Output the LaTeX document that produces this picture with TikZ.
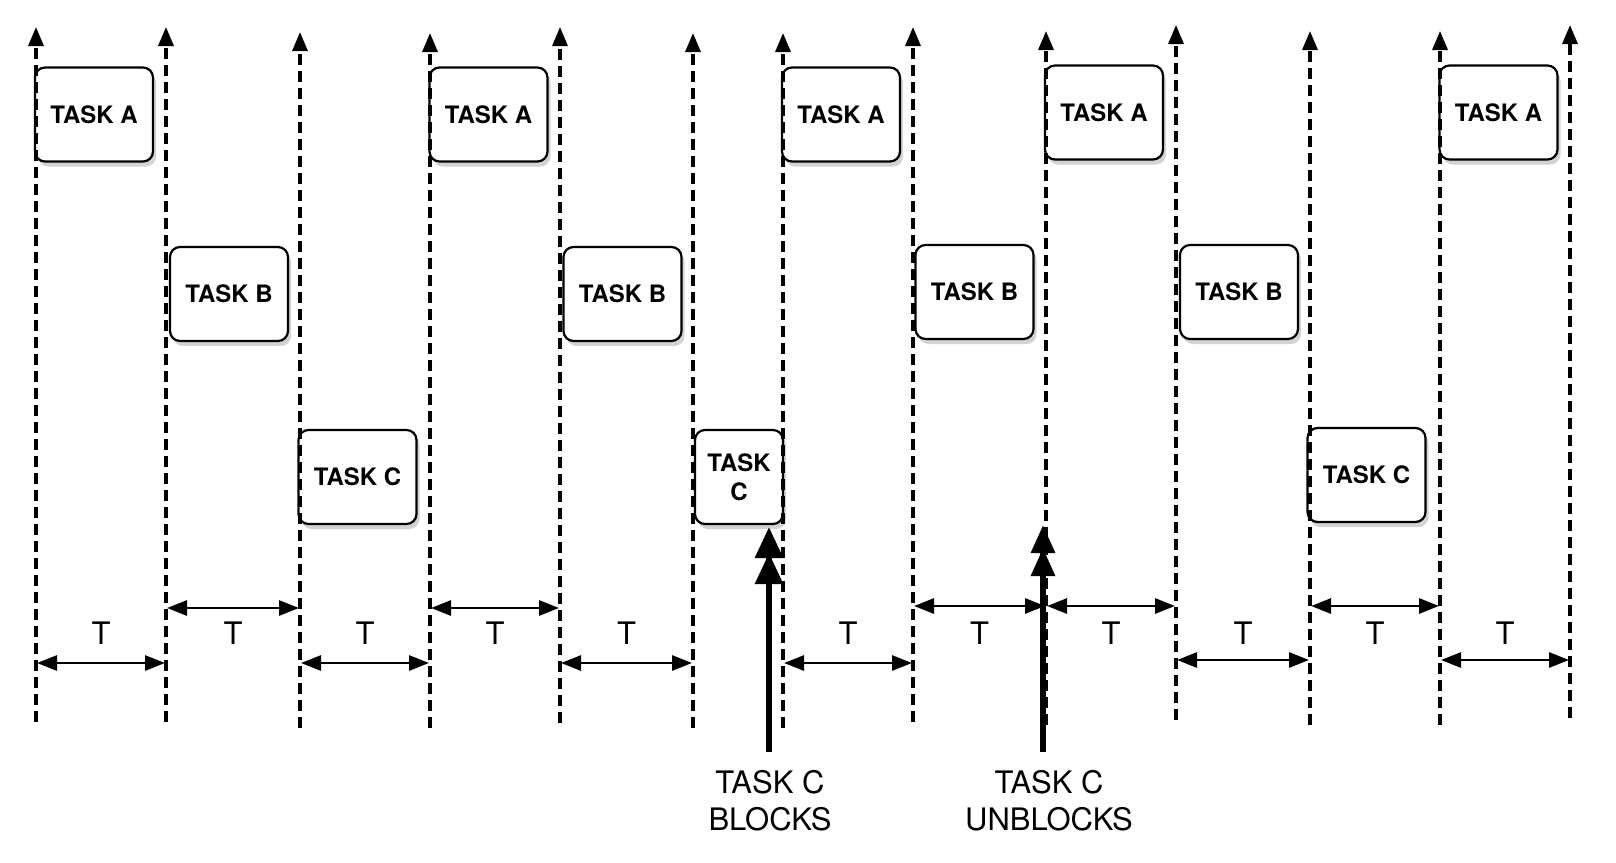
\documentclass[tikz,border=0pt]{standalone}
\usepackage{fontspec}
\setmainfont{TeX Gyre Heros}
\usetikzlibrary{arrows.meta,shadows}
\begin{document}
\begin{tikzpicture}[x=1pt,y=-1pt,
  timeline/.style={line width=3.2pt, dash pattern=on 11pt off 6pt, -{Triangle[length=19pt,width=15pt]}},
  task/.style={draw, line width=2.2pt, rounded corners=10pt, fill=white, minimum width=118pt, minimum height=94pt, inner sep=0pt, font=\bfseries\fontsize{24}{29}\selectfont, align=center, drop shadow={shadow xshift=3pt,shadow yshift=-5pt,opacity=0.35}},
  period/.style={line width=2.8pt, {Triangle[length=20pt,width=15pt]}-{Triangle[length=20pt,width=15pt]}},
  tlabel/.style={font=\fontsize{31}{37}\selectfont, inner sep=0pt},
  event/.style={line width=6pt, -{Triangle[length=31pt,width=27pt]}},
  eventsm/.style={line width=6pt, -{Triangle[length=28pt,width=23pt]}},
  evlabel/.style={font=\fontsize{31}{37}\selectfont, align=center, inner sep=0pt}
]
\useasboundingbox (0,0) rectangle (1616,862);

% task boxes
\node[task] (A1) at (94,114.5) {TASK A};
\node[task] (B1) at (229,294) {TASK B};
\node[task] (C1) at (357.5,477) {TASK C};
\node[task] (A2) at (488.5,114.5) {TASK A};
\node[task] (B2) at (622.5,294) {TASK B};
\node[task, minimum width=88pt] (C2) at (739,477) {TASK\\C};
\node[task] (A3) at (841,114.5) {TASK A};
\node[task] (B3) at (974.5,292) {TASK B};
\node[task] (A4) at (1104,112.5) {TASK A};
\node[task] (B4) at (1239,292) {TASK B};
\node[task] (C3) at (1366.5,475) {TASK C};
\node[task] (A5) at (1498.5,112.5) {TASK A};

% time lines
\foreach \i/\x/\t/\b in {1/36/27/722, 2/166/27/722, 3/300/32/728, 4/430/33/728, 5/560/27/723, 6/693/33/728, 7/783/33/728, 8/913/27/722, 9/1046/31/725, 10/1176/25/720, 11/1310/31/725, 12/1440/31/725, 13/1570/25/718}{
  \coordinate (top\i) at (\x,\t);
  \coordinate (bot\i) at (\x,\b);
  \draw[timeline] (bot\i) -- (top\i);
}

% periods
\foreach \i/\j/\y/\m in {1/2/663/101, 2/3/608/233, 3/4/663/365, 4/5/608/495, 5/6/663/626.5, 7/8/663/848, 8/9/606/979.5, 9/10/606/1111, 10/11/660/1243, 11/12/606/1375, 12/13/660/1505}{
  \draw[period, shorten <=1pt, shorten >=1pt] (top\i |- 0,\y) -- (top\j |- 0,\y);
  \node[tlabel] (T\i) at (\m,633) {T};
}

% events
\coordinate (blkfoot) at (769,752);
\coordinate (blktip) at (769,527);
\draw[event] (blkfoot) -- (blktip);
\draw[event, shorten >=26pt] (blkfoot) -- (blktip);
\node[evlabel, anchor=north] (blk) at (770,770) {TASK C\\BLOCKS};

\coordinate (ublfoot) at (1043,752);
\coordinate (ubltip) at (1043,525);
\draw[eventsm] (ublfoot) -- (ubltip);
\draw[eventsm, shorten >=23pt] (ublfoot) -- (ubltip);
\node[evlabel, anchor=north] (ubl) at (1049,770) {TASK C\\UNBLOCKS};
\end{tikzpicture}
\end{document}
